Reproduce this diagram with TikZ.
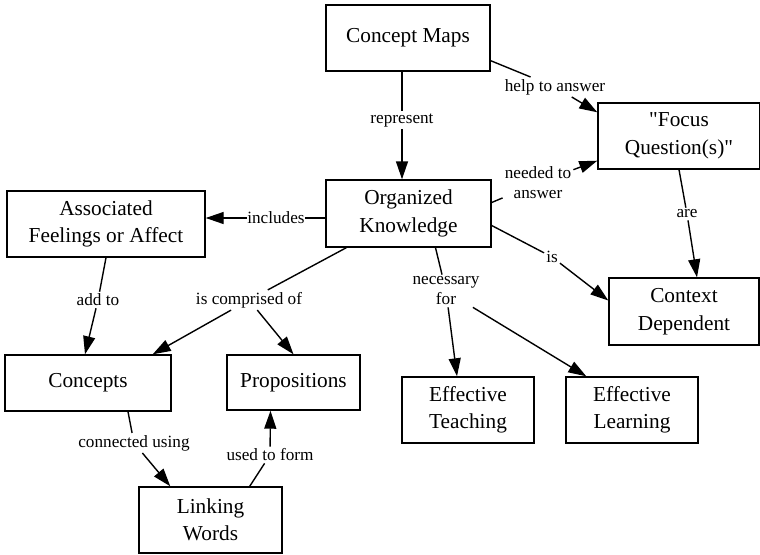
\documentclass[tikz,border=0pt]{standalone}
\usepackage{fontspec}
\setmainfont{Liberation Serif}[Ligatures=TeXOff]
\usetikzlibrary{arrows.meta}
\begin{document}
\begin{tikzpicture}[x=1pt,y=-1pt,
  concept/.style={draw,line width=1.4pt,align=center,inner sep=0pt,
    font=\fontsize{21.3}{27.5}\selectfont},
  link/.style={align=center,inner sep=2pt,font=\fontsize{17.2}{20}\selectfont},
  conn/.style={line width=1.4pt},
  arr/.style={line width=1.4pt,-{Triangle[length=18pt,width=12pt]}}]
\useasboundingbox (0,0) rectangle (760,554);
% concepts
\node[concept,minimum width=164pt,minimum height=66pt] (cm) at (408,38) {Concept Maps};
\node[concept,minimum width=162pt,minimum height=66pt] (fq) at (679,136) {"Focus\\Question(s)"};
\node[concept,minimum width=165pt,minimum height=67pt] (ok) at (408.5,213.5) {Organized\\Knowledge};
\node[concept,minimum width=198pt,minimum height=66pt] (af) at (106,224) {Associated\\Feelings or Affect};
\node[concept,minimum width=166pt,minimum height=56pt] (con) at (88,383) {Concepts};
\node[concept,minimum width=133pt,minimum height=55pt] (prop) at (293.5,382.5) {Propositions};
\node[concept,minimum width=143pt,minimum height=66pt] (lw) at (210.5,520) {Linking\\Words};
\node[concept,minimum width=150pt,minimum height=67pt] (cd) at (684,311.5) {Context\\Dependent};
\node[concept,minimum width=132pt,minimum height=66pt] (et) at (468,410) {Effective\\Teaching};
\node[concept,minimum width=132pt,minimum height=66pt] (el) at (632,410) {Effective\\Learning};
% linking phrases
\node[link] (rep) at (402,120) {represent};
\node[link] (hta) at (555,87) {help to answer};
\node[link] (nta) at (538,183) {needed to\\answer};
\node[link,inner sep=0.5pt] (inc) at (276,218) {includes};
\node[link] (addto) at (98,300) {add to};
\node[link] (icp) at (249,300) {is comprised of};
\node[link] (is) at (552,257) {is};
\node[link] (are) at (687,214) {are};
\node[link] (nf) at (446,291) {necessary\\for};
\node[link] (cu) at (134,443) {connected using};
\node[link] (utf) at (270,455) {used to form};
% connectors
\draw[conn] (cm.south -| rep) -- (rep);
\draw[arr] (rep) -- (ok.north -| rep);
\draw[conn] ([yshift=11pt]cm.south east) -- (hta);
\draw[arr] (hta) -- ([yshift=-10pt]fq.north west);
\draw[conn] ([yshift=11pt]ok.east) -- (nta);
\draw[arr] (nta) -- ([yshift=9pt]fq.south west);
\draw[conn] (ok.west |- inc) -- (inc);
\draw[arr] (inc) -- (af.east |- inc);
\draw[conn] ([xshift=21pt]ok.south west) -- (icp);
\draw[arr] (icp) -- ([xshift=-19pt]con.north east);
\draw[arr] (icp) -- (prop.north);
\draw[conn] (af.south) -- (addto);
\draw[arr] (addto) -- ([xshift=-3pt]con.north);
\draw[conn] ([yshift=-12pt]ok.east) -- (is);
\draw[arr] (is) -- ([yshift=11pt]cd.west);
\draw[conn] (fq.south) -- (are);
\draw[arr] (are) -- ([xshift=13pt]cd.north);
\draw[conn] ([xshift=27pt]ok.south) -- (nf);
\draw[arr] (nf) -- ([xshift=-11pt]et.north);
\draw[arr] (nf) -- ([xshift=21pt]el.north west);
\draw[conn] ([xshift=40pt]con.south) -- (cu);
\draw[arr] (cu) -- ([xshift=32pt]lw.north west);
\draw[conn] ([xshift=-33pt]lw.north east) -- (utf);
\draw[arr] (utf) -- ([xshift=-23pt]prop.south);
\end{tikzpicture}
\end{document}
